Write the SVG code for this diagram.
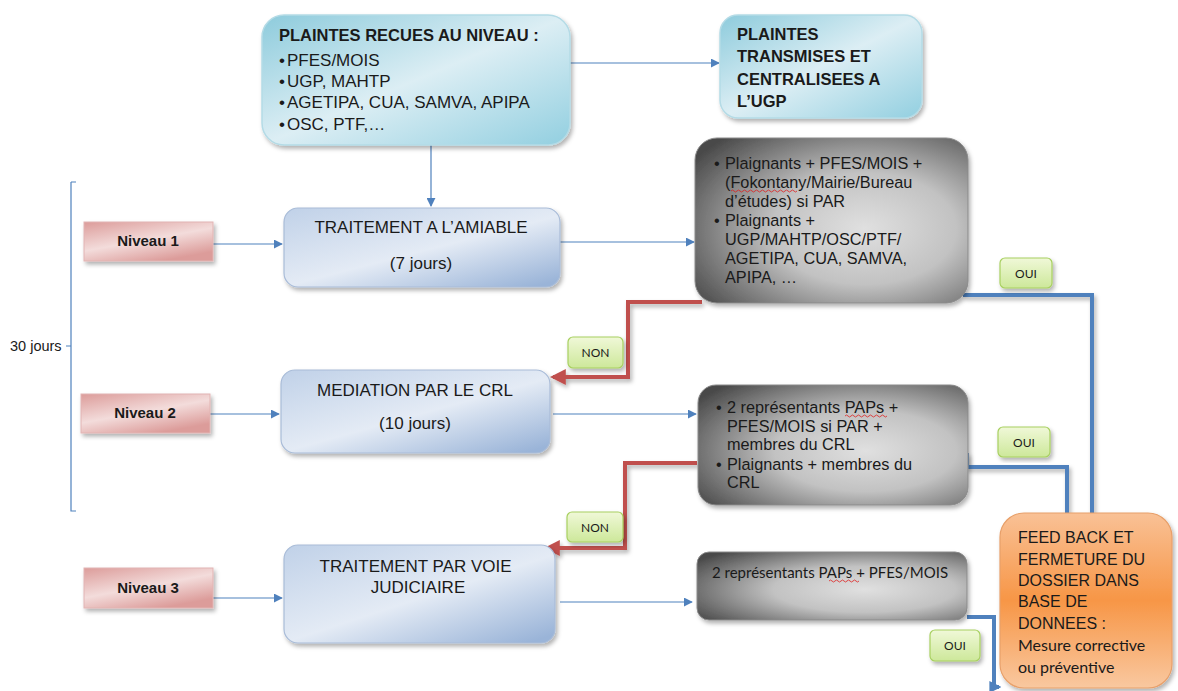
<svg xmlns="http://www.w3.org/2000/svg" width="1178" height="691" viewBox="0 0 1178 691">
<defs>
<linearGradient id="gTeal" x1="0" y1="0" x2="1" y2="1">
<stop offset="0" stop-color="#8dcbdc"/><stop offset="0.5" stop-color="#dceef4"/><stop offset="1" stop-color="#92cfe0"/>
</linearGradient>
<linearGradient id="gBlue" x1="0" y1="0" x2="0.9" y2="1">
<stop offset="0" stop-color="#c0d1e8"/><stop offset="0.55" stop-color="#e4ebf5"/><stop offset="1" stop-color="#9ab4d8"/>
</linearGradient>
<linearGradient id="gPink" x1="0" y1="0" x2="0.6" y2="1">
<stop offset="0" stop-color="#dc9c9a"/><stop offset="0.55" stop-color="#f3dcdb"/><stop offset="1" stop-color="#dc9c9a"/>
</linearGradient>
<radialGradient id="gGray" cx="0.62" cy="0.55" r="0.75">
<stop offset="0" stop-color="#e0e0e0"/><stop offset="0.45" stop-color="#c2c2c2"/><stop offset="1" stop-color="#4a4a4a"/>
</radialGradient>
<linearGradient id="gOrange" x1="0" y1="0" x2="0" y2="1">
<stop offset="0" stop-color="#f9c196"/><stop offset="0.5" stop-color="#f79646"/><stop offset="1" stop-color="#f9c8a0"/>
</linearGradient>
<linearGradient id="gGreen" x1="0" y1="0" x2="0" y2="1">
<stop offset="0" stop-color="#f0f8d8"/><stop offset="1" stop-color="#cde89a"/>
</linearGradient>
<filter id="sh" x="-10%" y="-10%" width="125%" height="130%">
<feDropShadow dx="2" dy="3" stdDeviation="2" flood-color="#000" flood-opacity="0.3"/>
</filter>
<marker id="aB" viewBox="0 0 10 10" refX="9" refY="5" markerWidth="9" markerHeight="9" markerUnits="userSpaceOnUse" orient="auto">
<path d="M0,0 L10,5 L0,10 z" fill="#4f81bd"/>
</marker>
<marker id="aR" viewBox="0 0 10 10" refX="8" refY="5" markerWidth="4" markerHeight="4" orient="auto">
<path d="M0,0 L10,5 L0,10 z" fill="#c0504d"/>
</marker>
<marker id="aBt" viewBox="0 0 10 10" refX="8" refY="5" markerWidth="3" markerHeight="3" orient="auto">
<path d="M0,0 L10,5 L0,10 z" fill="#4f81bd"/>
</marker>
<style>
text{font-family:"Liberation Sans",Arial,sans-serif;fill:#1a1a1a}
.b{font-weight:bold}
.c{font-family:Lato,"Open Sans",sans-serif}
.thin{fill:none;stroke:#4f81bd;stroke-width:1.2;marker-end:url(#aB)}
.red{fill:none;stroke:#c0504d;stroke-width:4;marker-end:url(#aR)}
.blu{fill:none;stroke:#4f81bd;stroke-width:4}
.lab{fill:url(#gGreen);stroke:#a8d060;stroke-width:1.2}
.squig{fill:none;stroke:#e02020;stroke-width:0.8}
</style>
</defs>

<g id="connectors">
<path class="thin" d="M570,63 H719"/>
<path class="thin" d="M431,145 V206"/>
<path class="thin" d="M213,244 H282"/>
<path class="thin" d="M210,414 H279"/>
<path class="thin" d="M213,598 H282"/>
<path class="thin" d="M557,242 H694"/>
<path class="thin" d="M553,414 H696"/>
<path class="thin" d="M560,602 H692"/>
<path class="red" d="M702,302 H628 V377 H553" filter="url(#sh)"/>
<path class="red" d="M697,463 H625 V548 H547" filter="url(#sh)"/>
<path class="blu" d="M963,295 H1092 V513" filter="url(#sh)"/>
<path class="blu" d="M967,453 V467 H1067 V513" filter="url(#sh)"/>
<path class="blu" d="M967,617 H994 V687 H999" style="marker-end:url(#aBt)"/>
<path d="M71,182 H76 M71,182 V511 H76 M66,346 H71" fill="none" stroke="#4f81bd" stroke-width="1.2"/>
</g>

<g id="bracket-label"><text x="10" y="351" font-size="14.5">30 jours</text></g>

<g id="plaintes-recues">
<rect x="262" y="15" width="308" height="130" rx="22" fill="url(#gTeal)" stroke="#b4dbe6" stroke-width="1.5" filter="url(#sh)"/>
<text x="279" y="41" font-size="16.5" class="b">PLAINTES RECUES AU NIVEAU :</text>
<text font-size="17">
<tspan x="279" y="66">•</tspan><tspan x="287" y="66">PFES/MOIS</tspan>
<tspan x="279" y="87">•</tspan><tspan x="287" y="87">UGP, MAHTP</tspan>
<tspan x="279" y="108">•</tspan><tspan x="287" y="108">AGETIPA, CUA, SAMVA, APIPA</tspan>
<tspan x="279" y="130">•</tspan><tspan x="287" y="130">OSC, PTF,…</tspan>
</text>
</g>

<g id="plaintes-transmises">
<rect x="720" y="15" width="202" height="103" rx="18" fill="url(#gTeal)" stroke="#b4dbe6" stroke-width="1.5" filter="url(#sh)"/>
<text font-size="16.5" class="b">
<tspan x="737" y="40">PLAINTES</tspan>
<tspan x="737" y="62">TRANSMISES ET</tspan>
<tspan x="737" y="85">CENTRALISEES A</tspan>
<tspan x="737" y="107">L’UGP</tspan>
</text>
</g>

<g id="niveau1">
<rect x="84" y="222" width="129" height="39" fill="url(#gPink)" stroke="#e2b4b3" stroke-width="1" filter="url(#sh)"/>
<text x="148" y="246" font-size="15" class="b" text-anchor="middle">Niveau 1</text>
</g>
<g id="niveau2">
<rect x="81" y="394" width="129" height="39" fill="url(#gPink)" stroke="#e2b4b3" stroke-width="1" filter="url(#sh)"/>
<text x="145" y="418" font-size="15" class="b" text-anchor="middle">Niveau 2</text>
</g>
<g id="niveau3">
<rect x="84" y="568" width="129" height="40" fill="url(#gPink)" stroke="#e2b4b3" stroke-width="1" filter="url(#sh)"/>
<text x="148" y="593" font-size="15" class="b" text-anchor="middle">Niveau 3</text>
</g>

<g id="amiable">
<rect x="284" y="208" width="276" height="79" rx="14" fill="url(#gBlue)" stroke="#a9bcd8" stroke-width="1.2" filter="url(#sh)"/>
<text x="421" y="233" font-size="17" text-anchor="middle">TRAITEMENT A L’AMIABLE</text>
<text x="421" y="269" font-size="17" text-anchor="middle">(7 jours)</text>
</g>

<g id="mediation">
<rect x="281" y="370" width="269" height="83" rx="14" fill="url(#gBlue)" stroke="#a9bcd8" stroke-width="1.2" filter="url(#sh)"/>
<text x="415" y="396" font-size="17" text-anchor="middle">MEDIATION PAR LE CRL</text>
<text x="415" y="429" font-size="17" text-anchor="middle">(10 jours)</text>
</g>

<g id="judiciaire">
<rect x="284" y="545" width="271" height="98" rx="14" fill="url(#gBlue)" stroke="#a9bcd8" stroke-width="1.2" filter="url(#sh)"/>
<text font-size="17" text-anchor="middle">
<tspan x="418" y="572">TRAITEMENT PAR VOIE</tspan>
<tspan x="418" y="593">JUDICIAIRE</tspan>
</text>
</g>

<g id="acteurs1">
<rect x="695" y="138" width="273" height="165" rx="22" fill="url(#gGray)" stroke="#8a8a8a" stroke-width="1" filter="url(#sh)"/>
<text font-size="16.3">
<tspan x="714" y="169">•</tspan><tspan x="725" y="169">Plaignants + PFES/MOIS +</tspan>
<tspan x="725" y="188">(Fokontany/Mairie/Bureau</tspan>
<tspan x="725" y="207">d’études) si PAR</tspan>
<tspan x="714" y="226">•</tspan><tspan x="725" y="226">Plaignants +</tspan>
<tspan x="725" y="245">UGP/MAHTP/OSC/PTF/</tspan>
<tspan x="725" y="264">AGETIPA, CUA, SAMVA,</tspan>
<tspan x="725" y="283">APIPA, …</tspan>
</text>
<path class="squig" d="M731,191 q1.5,-2 3,0 t3,0 t3,0 t3,0 t3,0 t3,0 t3,0 t3,0 t3,0 t3,0 t3,0 t3,0 t3,0 t3,0 t3,0 t3,0 t3,0 t3,0 t3,0 t3,0 t3,0 t3,0"/>
</g>

<g id="acteurs2">
<rect x="698" y="385" width="270" height="120" rx="18" fill="url(#gGray)" stroke="#8a8a8a" stroke-width="1" filter="url(#sh)"/>
<text font-size="16.3">
<tspan x="716" y="413">•</tspan><tspan x="727" y="413">2 représentants  PAPs +</tspan>
<tspan x="727" y="432">PFES/MOIS si PAR +</tspan>
<tspan x="727" y="450">membres du CRL</tspan>
<tspan x="716" y="470">•</tspan><tspan x="727" y="470">Plaignants  + membres du</tspan>
<tspan x="727" y="488">CRL</tspan>
</text>
<path class="squig" d="M845,416 q1.5,-2 3,0 t3,0 t3,0 t3,0 t3,0 t3,0 t3,0 t3,0 t3,0 t3,0 t3,0 t3,0 t3,0 t3,0"/>
</g>

<g id="acteurs3">
<rect x="697" y="552" width="270" height="68" rx="12" fill="url(#gGray)" stroke="#8a8a8a" stroke-width="1" filter="url(#sh)"/>
<text x="712" y="578" font-size="15" class="c">2 représentants PAPs + PFES/MOIS</text>
<path class="squig" d="M829,581 q1.5,-2 3,0 t3,0 t3,0 t3,0 t3,0 t3,0 t3,0 t3,0 t3,0 t3,0"/>
</g>

<g id="feedback">
<rect x="1000" y="513" width="172" height="175" rx="24" fill="url(#gOrange)" stroke="#e8a06a" stroke-width="1.2" filter="url(#sh)"/>
<text font-size="16">
<tspan x="1018" y="543">FEED BACK ET</tspan>
<tspan x="1018" y="565">FERMETURE DU</tspan>
<tspan x="1018" y="586">DOSSIER DANS</tspan>
<tspan x="1018" y="607">BASE DE</tspan>
<tspan x="1018" y="629">DONNEES :</tspan>
</text>
<text font-size="16" class="c">
<tspan x="1018" y="651">Mesure corrective</tspan>
<tspan x="1018" y="673">ou préventive</tspan>
</text>
</g>

<g id="label-non1"><rect class="lab" x="568" y="337" width="55" height="31" rx="5" filter="url(#sh)"/><text x="595.5" y="357" font-size="12" class="c" text-anchor="middle">NON</text></g>
<g id="label-non2"><rect class="lab" x="567" y="512" width="56" height="30" rx="5" filter="url(#sh)"/><text x="595" y="532" font-size="12" class="c" text-anchor="middle">NON</text></g>
<g id="label-oui1"><rect class="lab" x="1000" y="258" width="52" height="30" rx="5" filter="url(#sh)"/><text x="1026" y="278" font-size="12" class="c" text-anchor="middle">OUI</text></g>
<g id="label-oui2"><rect class="lab" x="998" y="427" width="52" height="30" rx="5" filter="url(#sh)"/><text x="1024" y="447" font-size="12" class="c" text-anchor="middle">OUI</text></g>
<g id="label-oui3"><rect class="lab" x="930" y="630" width="50" height="31" rx="5" filter="url(#sh)"/><text x="955" y="650" font-size="12" class="c" text-anchor="middle">OUI</text></g>
</svg>
